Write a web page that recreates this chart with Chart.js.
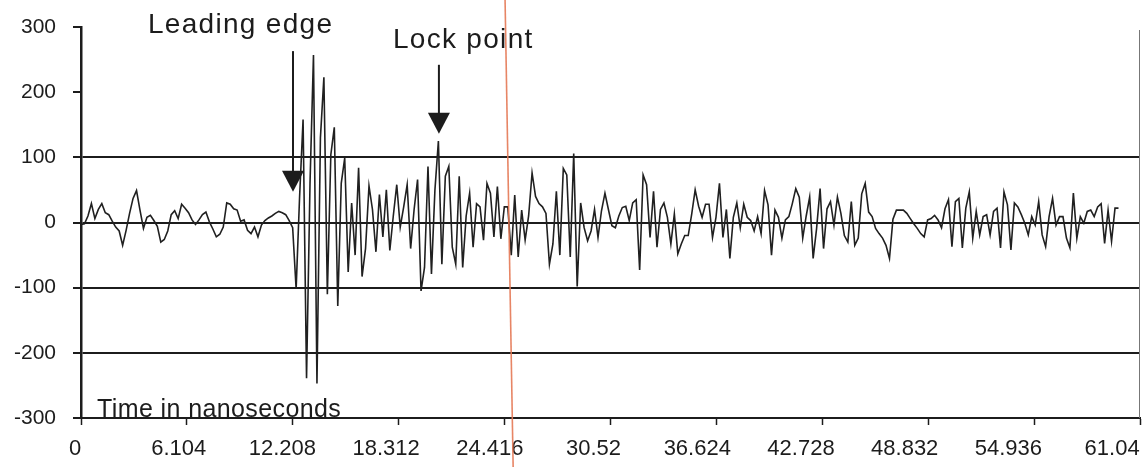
<!DOCTYPE html>
<html>
<head>
<meta charset="utf-8">
<script src="https://cdn.jsdelivr.net/npm/chart.js@4.4.1/dist/chart.umd.min.js"></script>
<style>
  html, body { margin: 0; padding: 0; background: #fff; }
</style>
</head>
<body>
<canvas id="myChart" width="1144" height="467"></canvas>
<script>
// time between samples of the trace, in ns
const sampleStep = 0.2;

// received signal, one value per sample
const signal = [
  -3, -2, 10, 29, 6, 20, 29, 15, 12, 2,
  -7, -13, -35, -12, 14, 37, 49, 19, -9, 8,
  11, 3, -6, -30, -26, -13, 12, 18, 6, 28,
  22, 15, 4, -3, 4, 12, 16, 1, -10, -22,
  -18, -7, 30, 28, 21, 19, 2, 4, -12, -17,
  -7, -22, -4, 3, 7, 10, 14, 17, 15, 12,
  3, -8, -102, 40, 158, -239, 60, 257, -247, 130,
  223, -110, 104, 146, -128, 60, 99, -76, 30, -50,
  84, -83, -40, 56, 20, -45, 43, -22, 50, -43,
  10, 58, -7, 24, 58, -40, 20, 66, -105, -69,
  86, -79, 50, 125, -64, 71, 86, -38, -64, 71,
  -69, 10, 45, -38, 29, 24, -27, 60, 45, -22,
  55, -25, 24, 24, -50, 42, -53, 19, -27, 10,
  76, 40, 29, 24, 14, -64, -33, 48, -50, 83,
  73, -53, 106, -98, 30, -8, -28, -13, 20, -23,
  18, 45, 20, -5, -8, 10, 23, 25, 3, 30,
  35, -73, 73, 58, -23, 48, -38, 20, 30, 8,
  -33, 13, -48, -33, -20, -20, 13, 50, 25, 8,
  28, 28, -23, 8, 60, -23, 20, -55, 8, 30,
  -8, 28, 8, 3, -13, 9, -17, 49, 27, -50,
  19, 8, -24, 4, 9, 29, 52, 39, -24, 10,
  39, -55, -9, 52, -40, 21, 32, -4, 39, 14,
  -20, -30, 32, -35, -24, 44, 60, 16, 9, -9,
  -17, -24, -35, -55, 5, 19, 19, 19, 14, 6,
  -2, -9, -17, -22, 4, 6, 11, 4, -8, 21,
  35, -37, 32, 37, -39, 22, 47, -24, 17, -19,
  9, 12, -19, 17, 22, -39, 47, 27, -42, 30,
  24, 12, -1, -19, 9, -4, 32, -19, -37, 9,
  37, -4, 9, 9, -24, -39, 45, -24, 9, -1,
  17, 19, 9, 24, 29, -32, 19, -29, 22, 22
];

const xTicks = [0, 6.104, 12.208, 18.312, 24.416, 30.52, 36.624, 42.728, 48.832, 54.936, 61.04];
const xTickLabels = ['0', '6.104', '12.208', '18.312', '24.416', '30.52', '36.624', '42.728', '48.832', '54.936', '61.04'];
const yTicks = [-300, -200, -100, 0, 100, 200, 300];
const yTickLabels = ['-300', '-200', '-100', '0', '100', '200', '300'];
// only these levels get a horizontal rule
const ruledLevels = [100, 0, -100, -200];

const ink = '#1c1c1c';
const font = 'Liberation Sans, Arial, sans-serif';
const setTicks = s => { s.ticks = xTicks.map(v => ({ value: v })); };

// arrows, labels and the marker line, in axis units
const notes = {
  id: 'notes',
  afterDraw(chart) {
    const { ctx, chartArea, scales: { x, y } } = chart;
    ctx.save();

    // right frame edge
    ctx.strokeStyle = '#777';
    ctx.lineWidth = 1;
    ctx.beginPath();
    ctx.moveTo(chartArea.right - 0.5, y.getPixelForValue(300) + 3);
    ctx.lineTo(chartArea.right - 0.5, chartArea.bottom);
    ctx.stroke();

    // marker line, slightly slanted, running the full height
    const ax = x.getPixelForValue(24.47), ay = y.getPixelForValue(300);
    const bx = x.getPixelForValue(24.86), by = y.getPixelForValue(-300);
    const k = (bx - ax) / (by - ay);
    ctx.strokeStyle = 'rgba(228,120,84,0.9)';
    ctx.lineWidth = 1.6;
    ctx.beginPath();
    ctx.moveTo(ax - k * ay, 0);
    ctx.lineTo(ax + k * (chart.height - ay), chart.height);
    ctx.stroke();

    // arrows
    const arrows = [
      { t: 12.22, from: 263, to: 47 },
      { t: 20.63, from: 242, to: 136 }
    ];
    ctx.strokeStyle = ink;
    ctx.fillStyle = ink;
    arrows.forEach(a => {
      const px = x.getPixelForValue(a.t);
      const top = y.getPixelForValue(a.from);
      const tip = y.getPixelForValue(a.to);
      ctx.lineWidth = 2;
      ctx.beginPath();
      ctx.moveTo(px, top);
      ctx.lineTo(px, tip - 18);
      ctx.stroke();
      ctx.beginPath();
      ctx.moveTo(px - 11, tip - 21);
      ctx.lineTo(px + 11, tip - 21);
      ctx.lineTo(px, tip);
      ctx.closePath();
      ctx.fill();
    });

    // text
    ctx.textBaseline = 'alphabetic';
    ctx.textAlign = 'left';
    ctx.font = '28px ' + font;
    ctx.letterSpacing = '1.3px';
    ctx.fillText('Leading edge', x.getPixelForValue(3.86), y.getPixelForValue(291));
    ctx.fillText('Lock point', x.getPixelForValue(17.98), y.getPixelForValue(268));
    ctx.font = '25px ' + font;
    ctx.letterSpacing = '0.4px';
    ctx.fillText('Time in nanoseconds', x.getPixelForValue(0.92), y.getPixelForValue(-298));
    ctx.restore();
  }
};

const ctx = document.getElementById('myChart').getContext('2d');
const chart = new Chart(ctx, {
  type: 'line',
  data: {
    datasets: [{
      data: signal.map((v, i) => ({ x: i * sampleStep, y: v })),
      borderColor: '#202020',
      borderWidth: 1.6,
      pointRadius: 0,
      tension: 0
    }]
  },
  options: {
    responsive: false,
    animation: false,
    devicePixelRatio: 1,
    layout: { padding: { top: 27, right: 4, left: 0, bottom: 0 } },
    plugins: { legend: { display: false }, tooltip: { enabled: false } },
    scales: {
      // time axis: line and tick marks
      x: {
        type: 'linear',
        min: 0,
        max: 61.04,
        afterBuildTicks: setTicks,
        afterFit: s => { s.height = 10; s.paddingLeft = 0; s.paddingRight = 0; },
        border: { color: ink, width: 2 },
        grid: { drawOnChartArea: false, tickLength: 7, tickColor: ink, tickWidth: 1.5 },
        ticks: { display: false }
      },
      // time axis labels, printed a little left of their marks
      xLabels: {
        type: 'linear',
        position: 'bottom',
        bounds: 'data',
        min: 0.353,
        max: 62.68,
        afterBuildTicks: setTicks,
        afterFit: s => { s.height = 39; s.paddingLeft = 0; s.paddingRight = 0; },
        border: { display: false },
        grid: { display: false },
        ticks: {
          callback: (v, i) => xTickLabels[i],
          color: ink,
          font: { family: font, size: 22 },
          maxRotation: 0,
          autoSkip: false,
          padding: 0
        }
      },
      y: {
        min: -300,
        max: 300,
        afterBuildTicks: s => { s.ticks = yTicks.map(v => ({ value: v })); },
        afterFit: s => { s.width = 81; s.paddingTop = 0; s.paddingBottom = 0; },
        border: { color: ink, width: 2.5 },
        grid: {
          color: c => (c.tick && ruledLevels.includes(c.tick.value)) ? ink : 'rgba(0,0,0,0)',
          lineWidth: 2,
          tickColor: ink,
          tickLength: 8
        },
        ticks: {
          callback: (v, i) => yTickLabels[i],
          color: ink,
          font: { family: font, size: 21 },
          padding: 17
        }
      }
    }
  },
  plugins: [notes]
});
</script>
</body>
</html>
